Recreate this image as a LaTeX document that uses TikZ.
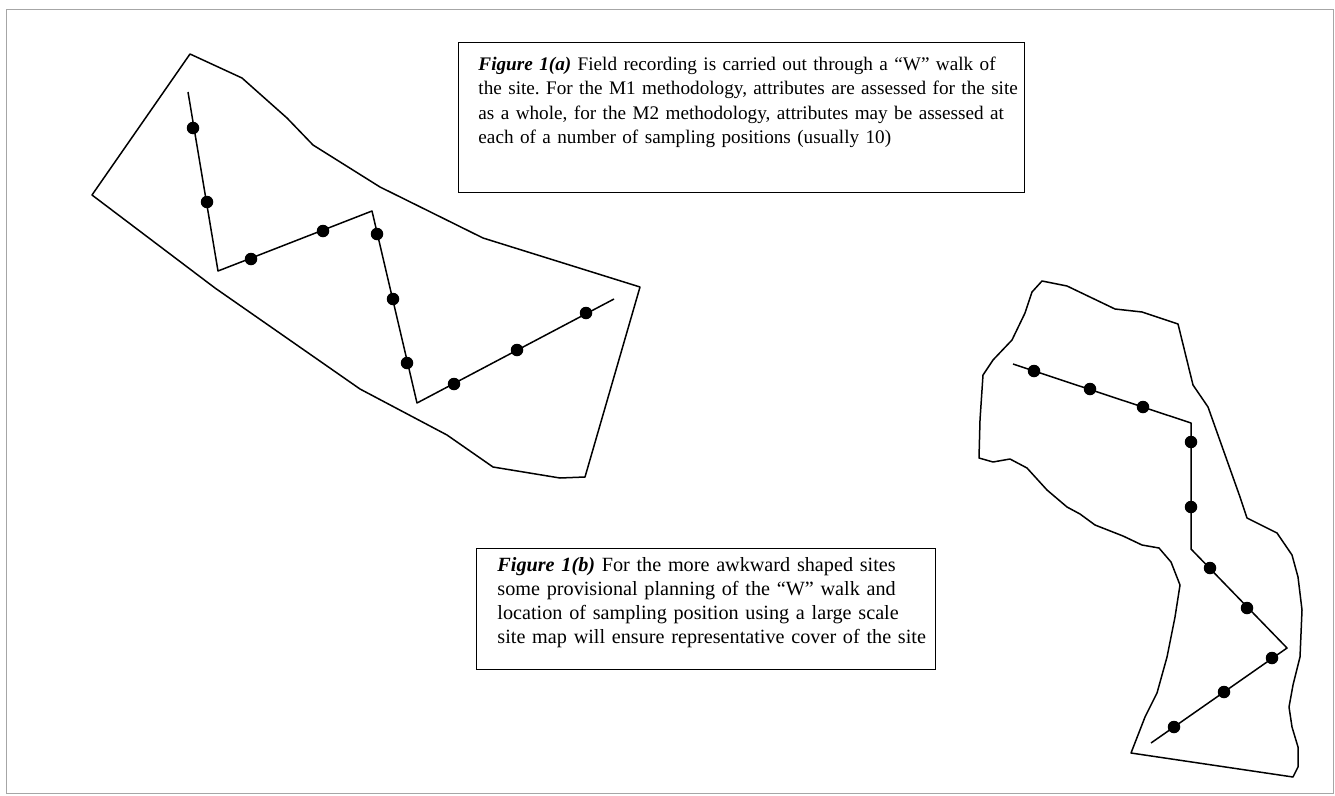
\documentclass[tikz,border=0pt]{standalone}
\usepackage{fontspec}
\setmainfont{Liberation Serif}
\frenchspacing
\begin{document}
\begin{tikzpicture}[x=1pt,y=-1pt,
  site/.style={line width=1.5pt, line join=round},
  walk/.style={line width=1.5pt, line join=round},
  spot/.style={circle, fill, inner sep=0pt, minimum size=12.5pt},
  caption/.style={draw, line width=0.9pt, anchor=north west, inner xsep=3pt, inner ysep=0pt, align=left}]
\useasboundingbox (0,0) rectangle (1335,795);
\draw[gray!70, line width=0.8pt] (6,9) rectangle (1333,793);

\draw[site] (190,54) -- (242,78) -- (287,118) -- (313,145) -- (380,187) -- (483,238)
  -- (640,287) -- (585,477) -- (560,478) -- (493,467) -- (447,435) -- (360,389)
  -- (215,288) -- (92,195) -- cycle;

\coordinate (a0) at (188,92);
\coordinate (a1) at (218,271);
\coordinate (a2) at (372,211);
\coordinate (a3) at (417,403);
\coordinate (a4) at (614,299);
\draw[walk] (a0) -- (a1) -- (a2) -- (a3) -- (a4);
\foreach \p [count=\i] in {(193,128),(207,202),(251,259),(323,231),(377,234),
    (393,299),(407,363),(454,384),(517,350),(586,313)}
  \node[spot] (sa\i) at \p {};

\draw[site] (1042,281) -- (1067,286) -- (1115,309) -- (1142,312) -- (1178,324)
  -- (1193,385) -- (1208,407) -- (1240,497) -- (1247,518) -- (1257,523) -- (1277,533)
  -- (1292,555) -- (1298,577) -- (1302,610) -- (1300,657) -- (1293,685) -- (1289,707)
  -- (1292,727) -- (1298,747) -- (1298,767) -- (1293,777) -- (1131,753) -- (1145,717)
  -- (1157,693) -- (1167,657) -- (1175,617) -- (1180,585) -- (1171,562) -- (1159,548)
  -- (1142,545) -- (1123,536) -- (1095,525) -- (1080,514) -- (1067,507) -- (1047,490)
  -- (1027,468) -- (1010,459) -- (993,462) -- (979,458) -- (980,420) -- (983,375)
  -- (993,360) -- (1012,340) -- (1025,313) -- (1032,292) -- cycle;

\coordinate (b0) at (1013,364);
\coordinate (b1) at (1191,423);
\coordinate (b2) at (1191,549);
\coordinate (b3) at (1287,648);
\coordinate (b4) at (1151,743);
\draw[walk] (b0) -- (b1) -- (b2) -- (b3) -- (b4);
\foreach \p [count=\i] in {(1034,371),(1090,389),(1143,407),(1191,442),(1191,507),
    (1210,568),(1247,608),(1272,658),(1224,692),(1174,727)}
  \node[spot] (sb\i) at \p {};

\node[caption, text width=560pt, font=\fontsize{19.2}{24.3}\selectfont] (capa) at (458,42)
  {\leftskip=17pt
   \rule{0pt}{28pt}\textbf{\textit{Figure 1(a)}} Field recording is carried out through a “W” walk of\\
   the site. For the M1 methodology, attributes are assessed for the site\\
   as a whole, for the M2 methodology, attributes may be assessed at\\
   each of a number of sampling positions (usually 10)\rule[-49pt]{0pt}{0pt}\par};
\node[caption, text width=453pt, font=\fontsize{20.2}{24}\selectfont] (capb) at (476,548)
  {\leftskip=18pt
   \rule{0pt}{23pt}\textbf{\textit{Figure 1(b)}} For the more awkward shaped sites\\
   some provisional planning of the “W” walk and\\
   location of sampling position using a large scale\\
   site map will ensure representative cover of the site\rule[-26pt]{0pt}{0pt}\par};
\end{tikzpicture}
\end{document}
